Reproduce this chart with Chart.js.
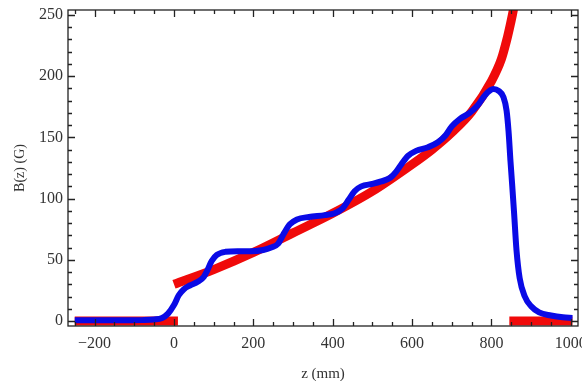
<!DOCTYPE html>
<html>
<head>
<meta charset="utf-8">
<script src="https://cdn.jsdelivr.net/npm/chart.js@4/dist/chart.umd.min.js"></script>
<style>
  html, body { margin: 0; padding: 0; background: #fff; }
  #wrap { width: 582px; height: 381px; }
</style>
</head>
<body>
<div id="wrap"><canvas id="fieldChart"></canvas></div>
<script>
// Measured field along the axis (blue)
var zBlue = [-250, -150, -80, -50, -30, -15, 0, 12, 25, 40, 60, 75, 85, 95, 108, 130, 160, 195, 225, 245,
             262, 276, 292, 310, 340, 380, 405, 425, 440, 455, 472, 500, 522, 545, 560, 575, 590, 610, 640, 665,
             685, 700, 720, 745, 765, 785, 805, 818, 830, 838, 843, 848, 852, 857, 863, 871, 884, 900, 920, 950,
             980, 1004];
var bBlue = [0.5, 0.5, 0.7, 1.2, 2.5, 6, 13, 21, 26, 29, 32, 36, 42, 49, 54, 56.5, 57, 57, 58, 60,
             63, 71, 79, 83, 85, 86.5, 88, 92, 99, 106, 110, 112, 114, 117, 122, 129, 135, 139, 142, 146,
             152, 159, 165, 170, 176, 185, 189.5, 188, 183, 172, 155, 130, 112, 88, 58, 35, 20, 12, 7, 4.5,
             3, 2.5];

// Design field profile (red)
var zRed = [0, 100, 200, 300, 400, 500, 600, 650, 700, 750, 800, 825, 838, 848, 855, 862];
var bRed = [30, 42, 56, 72, 88, 106, 128, 140, 154, 171, 196, 214, 229, 243, 254, 268];
var zZeroLeft = [-250, 10];
var zZeroRight = [845, 1004];

var xTicks = [-200, 0, 200, 400, 600, 800, 1000];
var yTicks = [0, 50, 100, 150, 200, 250];

function pts(xs, ys) {
    return xs.map(function (v, i) { return {x: v, y: ys[i]}; });
}

// Mathematica-style frame with inward ticks on all four sides
var frameTicks = {
    id: 'frameTicks',
    afterDatasetsDraw: function (chart) {
        var ctx = chart.ctx, a = chart.chartArea, x = chart.scales.x, y = chart.scales.y;
        ctx.save();
        ctx.strokeStyle = '#222';
        ctx.lineWidth = 1.3;
        ctx.strokeRect(a.left, a.top, a.right - a.left, a.bottom - a.top);
        ctx.beginPath();
        for (var v = -250; v <= 1000; v += 50) {
            var px = Math.round(x.getPixelForValue(v)) + 0.5;
            if (px < a.left || px > a.right) continue;
            var len = v % 200 === 0 ? 7 : 4;
            ctx.moveTo(px, a.bottom); ctx.lineTo(px, a.bottom - len);
            ctx.moveTo(px, a.top); ctx.lineTo(px, a.top + len);
        }
        for (var w = 0; w <= 250; w += 10) {
            var py = Math.round(y.getPixelForValue(w)) + 0.5;
            var l = w % 50 === 0 ? 7 : 4;
            ctx.moveTo(a.left, py); ctx.lineTo(a.left + l, py);
            ctx.moveTo(a.right, py); ctx.lineTo(a.right - l, py);
        }
        ctx.stroke();
        ctx.restore();
    }
};

var ctx = document.getElementById('fieldChart').getContext('2d');
var fieldChart = new Chart(ctx, {
    type: 'line',
    data: {
        datasets: [{
            label: 'ideal',
            data: pts(zRed, bRed),
            borderColor: '#f00a0a',
            borderWidth: 9,
            cubicInterpolationMode: 'monotone',
            pointRadius: 0,
            clip: 0,
            order: 2
        }, {
            label: 'ideal (outside)',
            data: pts(zZeroLeft, [0, 0]).concat([{x: 400, y: null}], pts(zZeroRight, [0, 0])),
            borderColor: '#f00a0a',
            borderWidth: 9,
            tension: 0,
            pointRadius: 0,
            clip: 0,
            order: 3
        }, {
            label: 'measured',
            data: pts(zBlue, bBlue),
            borderColor: '#0a0ae6',
            borderWidth: 6,
            cubicInterpolationMode: 'monotone',
            pointRadius: 0,
            clip: 0,
            order: 1
        }]
    },
    options: {
        responsive: true,
        maintainAspectRatio: false,
        animation: false,
        layout: { padding: { top: 10, right: 4, left: 0, bottom: 0 } },
        plugins: { legend: { display: false }, tooltip: { enabled: false } },
        scales: {
            x: {
                type: 'linear',
                min: -267,
                max: 1018,
                grid: { display: false, drawTicks: false },
                border: { display: false },
                afterBuildTicks: function (s) { s.ticks = xTicks.map(function (v) { return {value: v}; }); },
                afterFit: function (s) { s.height = 55; s.paddingLeft = 0; s.paddingRight = 0; },
                ticks: {
                    padding: 8,
                    color: '#333',
                    font: { family: 'Liberation Serif', size: 16 },
                    callback: function (v) { return String(v).replace('-', '\u2212'); }
                },
                title: {
                    display: true,
                    text: 'z (mm)',
                    color: '#333',
                    padding: { top: 0, bottom: -2 },
                    font: { family: 'Liberation Serif', size: 15 }
                }
            },
            y: {
                type: 'linear',
                min: -4.1,
                max: 254.1,
                grid: { display: false, drawTicks: false },
                border: { display: false },
                afterBuildTicks: function (s) { s.ticks = yTicks.map(function (v) { return {value: v}; }); },
                afterFit: function (s) { s.width = 68; s.paddingTop = 0; s.paddingBottom = 0; },
                ticks: {
                    padding: 5,
                    color: '#333',
                    font: { family: 'Liberation Serif', size: 16 }
                },
                title: {
                    display: true,
                    text: 'B(z) (G)',
                    color: '#333',
                    padding: { top: 12, bottom: 0 },
                    font: { family: 'Liberation Serif', size: 14 }
                }
            }
        }
    },
    plugins: [frameTicks]
});
</script>
</body>
</html>
